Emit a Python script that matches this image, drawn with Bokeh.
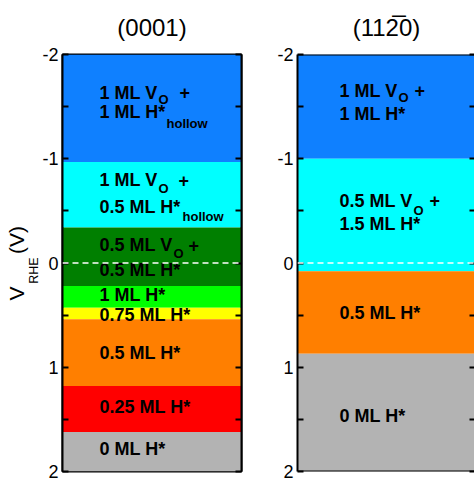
import math
from bokeh.plotting import figure
from bokeh.models import Range1d, LinearAxis, FixedTicker, Span, ColumnDataSource
from bokeh.layouts import row
from bokeh.core.properties import value
from bokeh.embed import file_html
from bokeh.resources import INLINE

FONT = "Liberation Sans"

# ---- data ----
tick_values = [-2, -1, 0, 1, 2]
tick_labels = ["-2", "-1", "0", "1", "2"]
minor_values = [-1.5, -0.5, 0.5, 1.5]

panel_titles = ["(0001)", "(112\u03050)"]

left_edges = [-2, -0.97, -0.34, 0.22, 0.43, 0.54, 1.18, 1.62, 2]
left_colors = ["#0f80ff", "#00ffff", "#007f00", "#00ff00", "#ffff00", "#ff7f00", "#ff0000", "#b3b3b3"]
right_edges = [-2, -1.0, 0.08, 0.87, 2]
right_colors = ["#0f80ff", "#00ffff", "#ff7f00", "#b3b3b3"]

left_main_text = ["1 ML V", "+", "1 ML H*", "1 ML V", "+", "0.5 ML H*", "0.5 ML V", "+",
                  "0.5 ML H*", "1 ML H*", "0.75 ML H*", "0.5 ML H*", "0.25 ML H*", "0 ML H*"]
left_main_y = [-1.633, -1.633, -1.447, -0.793, -0.793, -0.535, -0.171, -0.171,
               0.068, 0.31, 0.502, 0.859, 1.385, 1.781]
left_main_dx = [37, 117, 37, 37, 116, 37, 37, 126, 37, 37, 37, 37, 37, 37]
left_sub_text = ["O", "hollow", "O", "hollow", "O"]
left_sub_y = [-1.569, -1.340, -0.715, -0.45, -0.093]
left_sub_dx = [96, 104, 96, 120, 111]

right_main_text = ["1 ML V", "+", "1 ML H*", "0.5 ML V", "+", "1.5 ML H*", "0.5 ML H*", "0 ML H*"]
right_main_y = [-1.654, -1.654, -1.431, -0.595, -0.595, -0.37, 0.483, 1.465]
right_main_dx = [42, 117, 42, 42, 132, 42, 42, 42]
right_sub_text = ["O", "O"]
right_sub_y = [-1.591, -0.508]
right_sub_dx = [101, 116]

ylabel_text = ["V", "RHE", "(V)"]
ylabel_y = [0.36, 0.20, -0.086]
ylabel_size = ["21px", "12.5px", "21px"]

FRAME_H = 417
TOP = 54
BOTTOM = 8


def make_panel(edges, colors, main_text, main_y, main_dx, sub_text, sub_y, sub_dx,
               title, frame_w, b_left, b_right, outline):
    p = figure(frame_width=frame_w, frame_height=FRAME_H,
               min_border_left=b_left, min_border_right=b_right,
               min_border_top=TOP, min_border_bottom=BOTTOM,
               x_range=Range1d(0, 1), y_range=Range1d(2, -2),
               x_axis_location=None, y_axis_location=None,
               toolbar_location=None, output_backend="svg")
    p.grid.visible = False
    p.background_fill_color = "white"
    p.border_fill_color = "white"
    if outline:
        p.outline_line_color = "black"
        p.outline_line_width = 2
    else:
        p.outline_line_color = None

    p.title.text = title
    p.title.align = "center"
    p.title.vertical_align = "middle"
    p.title.text_font = FONT
    p.title.text_font_size = "24px"
    p.title.text_font_style = "normal"
    p.title.text_color = "black"
    p.title.standoff = 25

    src = ColumnDataSource(dict(top=edges[:-1], bottom=edges[1:], color=colors))
    p.quad(left=0, right=1, top="top", bottom="bottom", fill_color="color",
           line_color=None, source=src)

    p.add_layout(Span(location=0, dimension="width", line_color="white",
                      line_width=1.5, line_dash="6 4"))

    msrc = ColumnDataSource(dict(y=main_y, text=main_text, dx=main_dx))
    p.text(x=0, y="y", text="text", x_offset="dx", source=msrc,
           text_font=value(FONT), text_font_style="bold", text_font_size="18px",
           text_baseline="alphabetic", text_align="left", text_color="black")
    ssrc = ColumnDataSource(dict(y=sub_y, text=sub_text, dx=sub_dx))
    p.text(x=0, y="y", text="text", x_offset="dx", source=ssrc,
           text_font=value(FONT), text_font_style="bold", text_font_size="13px",
           text_baseline="alphabetic", text_align="left", text_color="black")

    ticker = FixedTicker(ticks=tick_values, minor_ticks=minor_values)
    overrides = {float(v): t for v, t in zip(tick_values, tick_labels)}
    yl = LinearAxis(ticker=ticker, major_label_overrides=overrides,
                    major_tick_in=6, major_tick_out=0, minor_tick_in=6, minor_tick_out=0,
                    major_tick_line_width=2, minor_tick_line_width=2,
                    axis_line_width=2, major_label_standoff=4,
                    major_label_text_font=FONT, major_label_text_font_size="18px",
                    major_label_text_color="black")
    p.add_layout(yl, "left")
    yr = LinearAxis(ticker=ticker,
                    major_tick_in=6, major_tick_out=0, minor_tick_in=6, minor_tick_out=0,
                    major_tick_line_width=2, minor_tick_line_width=2,
                    axis_line_width=2, axis_line_color="black" if outline else None,
                    major_label_standoff=0, major_label_text_font_size="0px",
                    major_label_text_color=None)
    p.add_layout(yr, "right")

    if not outline:
        for loc in (-2, 2):
            p.add_layout(Span(location=loc, dimension="width", line_color="black", line_width=2))
    return p


# narrow figure carrying the rotated y-axis label V_RHE(V)
p0 = figure(frame_width=39, frame_height=FRAME_H,
            min_border_left=0, min_border_right=0,
            min_border_top=TOP, min_border_bottom=BOTTOM,
            x_range=Range1d(0, 39), y_range=Range1d(2, -2),
            x_axis_location=None, y_axis_location=None,
            toolbar_location=None, output_backend="svg")
p0.grid.visible = False
p0.outline_line_color = None
p0.background_fill_color = "white"
p0.border_fill_color = "white"
ylabel_x = [16, 33, 16]
for txt, xv, yv, fs in zip(ylabel_text, ylabel_x, ylabel_y, ylabel_size):
    p0.text(x=[xv], y=[yv], text=[txt], angle=math.pi / 2,
            text_font=value(FONT), text_font_size=fs, text_color="black",
            text_align="left", text_baseline="alphabetic")

p1 = make_panel(left_edges, left_colors, left_main_text, left_main_y, left_main_dx,
                left_sub_text, left_sub_y, left_sub_dx, panel_titles[0],
                179, 22, 10, True)
p2 = make_panel(right_edges, right_colors, right_main_text, right_main_y, right_main_dx,
                right_sub_text, right_sub_y, right_sub_dx, panel_titles[1],
                178, 46, 0, False)

layout = row(p0, p1, p2)
open("out.html", "w").write(file_html(layout, INLINE))
